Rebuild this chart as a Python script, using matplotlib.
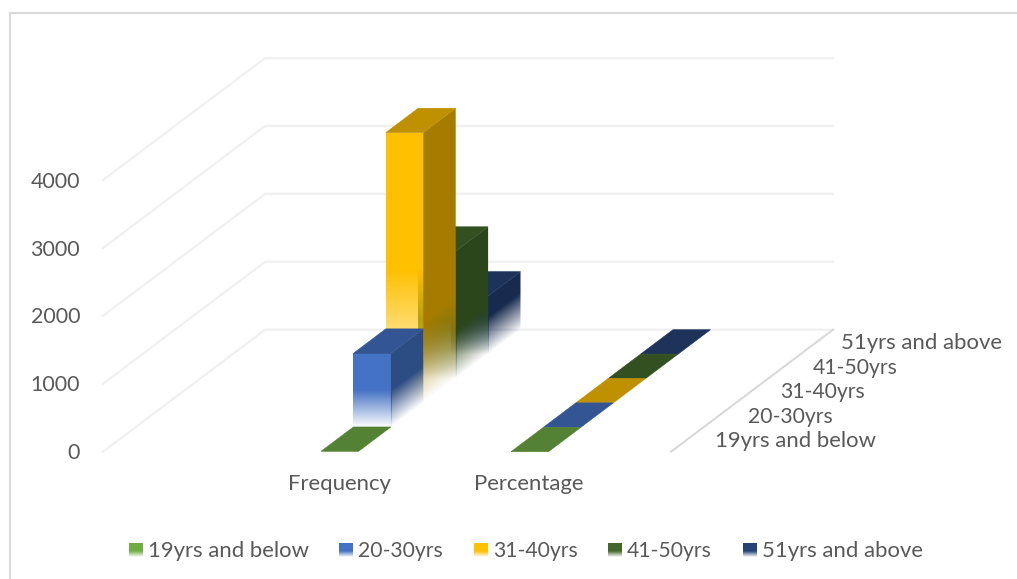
import numpy as np
import matplotlib
matplotlib.use('Agg')
import matplotlib.pyplot as plt
from matplotlib.colors import to_rgb
from matplotlib.patches import Polygon

plt.rcParams['font.family'] = ['Lato', 'DejaVu Sans']

# Datos
categorias = ['Frequency', 'Percentage']
grupos = ['19yrs and below', '20-30yrs', '31-40yrs', '41-50yrs', '51yrs and above']
frecuencia = [5, 1090, 3980, 1875, 855]
porcentaje = [0.001, 0.138, 0.503, 0.237, 0.108]
valores = [frecuencia, porcentaje]
ticks_y = [0, 1000, 2000, 3000, 4000]

# Colores por grupo: frente, tapa y lateral
color_frente = ['#70AD47', '#4472C4', '#FFC000', '#43682B', '#264478']
color_tapa = ['#548235', '#335593', '#BF9000', '#325020', '#1D3359']
color_lado = ['#4A7330', '#2C4C84', '#A67C00', '#2C461C', '#182B4E']
# Largo (px) del desvanecido inferior de cada barra
fade_frente = [34, 37, 133, 60, 37]
fade_lado = [34, 37, 80, 48, 37]

W, H = 1017, 579
X_IZQ, X_DER, Y_PISO = 103, 671, 451.7
ESC_Y = 67.9 / 1000
DX, DY = 32.4, -24.4
ANCHO_BARRA = 37.5
X_CAT = [321, 511]
TEXTO = '#595959'
FS = 15.9
FS_Y = 15.4
# Las etiquetas con rango numerico van algo mas estrechas
fs_grupo = [15.9, 15.2, 15.2, 15.2, 15.9]
sep_grupo = [28, 28, 28, 28, 24]


def proyectar(x, prof, valor):
    return x + DX * prof, Y_PISO + DY * prof - valor * ESC_Y


def cara_con_fade(ax, vertices, color, piso, largo, zorder):
    # La transparencia depende de la altura del pixel sobre el borde inferior
    v = np.array(vertices)
    x0, x1 = v[:, 0].min(), v[:, 0].max()
    y0, y1 = v[:, 1].min(), v[:, 1].max()
    xs = np.arange(np.floor(x0), np.ceil(x1) + 1)
    ys = np.arange(np.floor(y0), np.ceil(y1) + 1)
    xx, yy = np.meshgrid(xs + 0.5, ys + 0.5)
    alfa = np.clip((piso(xx) - yy) / largo, 0, 1)
    img = np.zeros(xx.shape + (4,))
    img[..., :3] = to_rgb(color)
    img[..., 3] = alfa
    im = ax.imshow(img, extent=(xs[0], xs[-1] + 1, ys[-1] + 1, ys[0]),
                   interpolation='bilinear', zorder=zorder, aspect='auto')
    clip = Polygon(v, closed=True, transform=ax.transData, fc='none', ec='none')
    ax.add_patch(clip)
    im.set_clip_path(clip)


fig = plt.figure(figsize=(W / 100, H / 100), dpi=100)
ax = fig.add_axes([0, 0, 1, 1])

# Marco exterior del grafico
ax.plot([10, 10, W + 5], [H + 5, 13, 13], color='#D9D9D9', lw=1.5, zorder=1)

# Lineas de rejilla: pared izquierda y pared del fondo
n = len(grupos)
for t in ticks_y:
    xa, ya = proyectar(X_IZQ, 0, t)
    xb, yb = proyectar(X_IZQ, n, t)
    xc = proyectar(X_DER, n, t)[0]
    ax.plot([xa, xb, xc], [ya, yb, yb], color='#F0F0F0', lw=1.6, zorder=1)
    ax.text(80, ya + 1.5, str(t), ha='right', va='center', fontsize=FS_Y, color=TEXTO)

# Borde derecho del piso
xa, ya = proyectar(X_DER, 0, 0)
xb, yb = proyectar(X_DER, n, 0)
ax.plot([xa, xb], [ya, yb], color='#D9D9D9', lw=1.5, zorder=2)

# Barras, del fondo hacia el frente
for c, x_cat in enumerate(X_CAT):
    for i in reversed(range(n)):
        val = valores[c][i]
        z = 10 + (n - i) * 3
        x_r = x_cat + ANCHO_BARRA
        f0 = proyectar(x_cat, i, 0)
        f1 = proyectar(x_r, i, 0)
        t0 = proyectar(x_cat, i, val)
        t1 = proyectar(x_r, i, val)
        b0 = proyectar(x_cat, i + 1, val)
        b1 = proyectar(x_r, i + 1, val)
        bs = proyectar(x_r, i + 1, 0)
        alto = val * ESC_Y
        if alto > 3:
            # El frente se mete 1 px bajo el lateral para que no quede junta visible
            piso_frente = lambda xx, y=f0[1]: np.full_like(xx, y)
            cara_con_fade(ax, [t0, (t1[0] + 1, t1[1]), (f1[0] + 1, f1[1]), f0],
                          color_frente[i], piso_frente, fade_frente[i], z)
            piso_lado = lambda xx, xf=f1[0], yf=f1[1]: yf + (xx - xf) * DY / DX
            cara_con_fade(ax, [t1, b1, bs, f1], color_lado[i], piso_lado,
                          fade_lado[i], z + 1)
        ax.add_patch(Polygon([t0, t1, b1, b0], closed=True, fc=color_tapa[i],
                             ec=color_tapa[i], lw=0.4, zorder=z + 2))

# Etiquetas de categorias
for c, x_cat in enumerate(X_CAT):
    ax.text(x_cat + ANCHO_BARRA / 2 - c, 484.5, categorias[c], ha='center', va='center',
            fontsize=FS, color=TEXTO)

# Etiquetas del eje de profundidad
for i, g in enumerate(grupos):
    x, y = proyectar(X_DER, i + 0.5, 0)
    ax.text(x + sep_grupo[i], y + 1.5, g, ha='left', va='center',
            fontsize=fs_grupo[i], color=TEXTO)

# Leyenda con muestras degradadas
x_leyenda = [129, 339, 474, 608, 743]
for i, g in enumerate(grupos):
    x = x_leyenda[i]
    rgb = np.array(to_rgb(color_frente[i]))
    alfa = np.clip((557 - (np.arange(14) + 543.5)) / 6, 0, 1)[:, None, None]
    img = np.concatenate([np.tile(rgb, (14, 14, 1)), np.tile(alfa, (1, 14, 1))], axis=2)
    ax.imshow(img, extent=(x, x + 14, 557, 543), aspect='auto', zorder=5)
    ax.text(x + 19, 551, g, ha='left', va='center', fontsize=fs_grupo[i], color=TEXTO)

ax.set_xlim(0, W)
ax.set_ylim(H, 0)
ax.axis('off')

fig.savefig('out.png', dpi=100, facecolor='white')
